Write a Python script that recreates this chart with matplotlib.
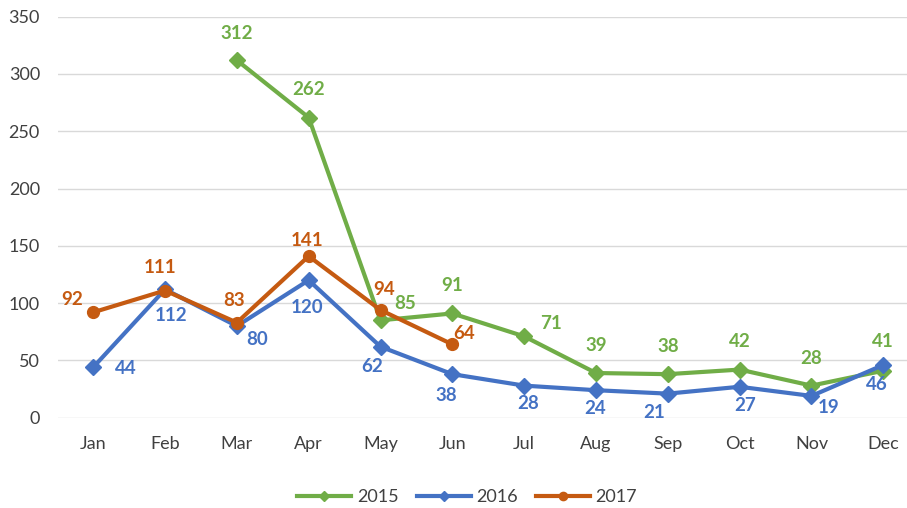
import matplotlib
matplotlib.use("Agg")
import matplotlib.pyplot as plt

months = ["Jan", "Feb", "Mar", "Apr", "May", "Jun", "Jul", "Aug", "Sep", "Oct", "Nov", "Dec"]

# 2015 starts in March
x2015 = [2, 3, 4, 5, 6, 7, 8, 9, 10, 11]
v2015 = [312, 262, 85, 91, 71, 39, 38, 42, 28, 41]
v2016 = [44, 112, 80, 120, 62, 38, 28, 24, 21, 27, 19, 46]
v2017 = [92, 111, 83, 141, 94, 64]

# label offsets in pixels (dx, dy)
off2015 = [(0, 27), (0, 28), (25, 17), (0, 28), (27, 13), (0, 28), (0, 28), (0, 28), (0, 27), (0, 29)]
off2016 = [(33, -1), (6, -26), (20, -13), (-2, -27), (-8, -20), (-6, -21),
           (4, -18), (-1, -18), (-14, -19), (5, -19), (17, -12), (-6, -20)]
off2017 = [(-21, 13), (-5, 23), (-3, 22), (-2, 16), (4, 21), (12, 11)]

green = "#70AD47"
blue = "#4472C4"
orange = "#C55A11"

plt.rcParams["font.family"] = ["Lato", "DejaVu Sans"]

fig = plt.figure(figsize=(9.07, 5.08), dpi=100)
ax = fig.add_axes([58 / 907, 1 - 417.7 / 508, 849 / 907, 401 / 508])

series = [
    ("2015", x2015, v2015, green, "D", off2015),
    ("2016", list(range(12)), v2016, blue, "D", off2016),
    ("2017", list(range(6)), v2017, orange, "o", off2017),
]

for name, xs, ys, col, mk, offs in series:
    ax.plot(xs, ys, color=col, lw=3, marker=mk, ms=8 if mk == "D" else 8.5,
            label=name, solid_joinstyle="round")
    for x, y, (dx, dy) in zip(xs, ys, offs):
        ax.annotate(str(y), (x, y), xytext=(dx, dy), textcoords="offset pixels",
                    ha="center", va="center", color=col, fontsize=13.5, fontweight="bold")

ax.set_xlim(-0.49, 11.33)
ax.set_ylim(0, 350)
ax.set_yticks(range(0, 351, 50))
ax.set_xticks(range(12))
ax.set_xticklabels(months)
ax.tick_params(length=0, labelsize=13, labelcolor="#404040")
ax.tick_params(axis="x", pad=13)
ax.tick_params(axis="y", pad=13)
ax.grid(axis="y", color="#D9D9D9", lw=1)
ax.set_axisbelow(True)
for s in ax.spines.values():
    s.set_visible(False)

fig.legend(loc="center", bbox_to_anchor=(0.515, 0.022), ncol=3, frameon=False,
           fontsize=13, handlelength=3, columnspacing=1.0, handletextpad=0.3,
           markerscale=0.7, labelcolor="#404040")

fig.savefig("out.png", dpi=100)
